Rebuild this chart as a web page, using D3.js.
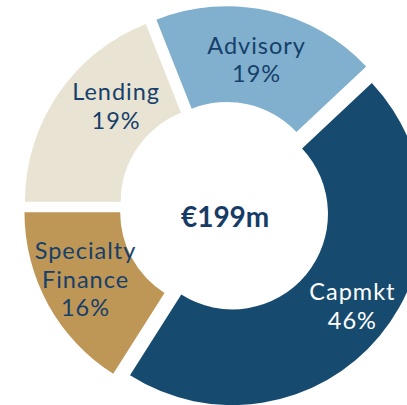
<!DOCTYPE html>
<html>
<head>
<meta charset="utf-8">
<script src="https://cdn.jsdelivr.net/npm/d3@7"></script>
<style>
  html, body { margin: 0; padding: 0; background: #ffffff; }
  svg { display: block; }
</style>
</head>
<body>
<svg id="chart" width="407" height="405"></svg>
<script>
// ---- data ----
const categories = ["Advisory", "Capmkt", "Specialty Finance", "Lending"];
const shares = [19, 46, 16, 19];
const labelLines = [["Advisory", "19%"], ["Capmkt", "46%"], ["Specialty", "Finance", "16%"], ["Lending", "19%"]];
const sliceColors = ["#80B0CE", "#164B6F", "#BE9655", "#E8E3D2"];
const labelColors = ["#163F6B", "#FFFFFF", "#163F6B", "#163F6B"];
const totalLabel = "€199m";

// ---- layout ----
const W = 407, H = 405;
const cx = 224.6, cy = 207.4;
const r0 = 95.5, r1 = 191.2;
const explode = 10.2;
const startDeg = -21.6;
const labelNudge = [[-2, 2], [9, 1], [-5, -2], [18, -15]];
const lineH = 28.5, capH = 16.7;

const svg = d3.select("#chart");
const g = svg.append("g").attr("transform", `translate(${cx},${cy})`);

const start = startDeg * Math.PI / 180;
const pie = d3.pie().sort(null).value(d => d)
  .startAngle(start).endAngle(start + 2 * Math.PI);
const arcs = pie(shares);
const arc = d3.arc().innerRadius(r0).outerRadius(r1);

const slice = g.selectAll("g.slice").data(arcs).join("g")
  .attr("class", "slice")
  .attr("transform", d => {
    const m = (d.startAngle + d.endAngle) / 2;
    return `translate(${Math.sin(m) * explode},${-Math.cos(m) * explode})`;
  });

slice.append("path")
  .attr("d", arc)
  .attr("fill", (d, i) => sliceColors[i]);

slice.each(function (d, i) {
  const [x, y] = arc.centroid(d);
  const lx = x + labelNudge[i][0], ly = y + labelNudge[i][1];
  const lines = labelLines[i];
  const t = d3.select(this).append("text")
    .attr("text-anchor", "middle")
    .attr("fill", labelColors[i])
    .style("font-family", "Lato, 'DejaVu Sans', sans-serif")
    .style("font-weight", "400")
    .style("font-size", "23.5px")
    .style("letter-spacing", "1px");
  lines.forEach((ln, k) => {
    t.append("tspan")
      .attr("x", lx + 0.5)
      .attr("y", ly - (lines.length - 1) * lineH / 2 + k * lineH + capH / 2)
      .text(ln);
  });
});

g.append("text")
  .attr("x", 0.5)
  .attr("y", 19.3)
  .attr("text-anchor", "middle")
  .attr("fill", "#163B66")
  .style("font-family", "Lato, 'DejaVu Sans', sans-serif")
  .style("font-weight", "700")
  .style("font-size", "28px")
  .text(totalLabel);
</script>
</body>
</html>
